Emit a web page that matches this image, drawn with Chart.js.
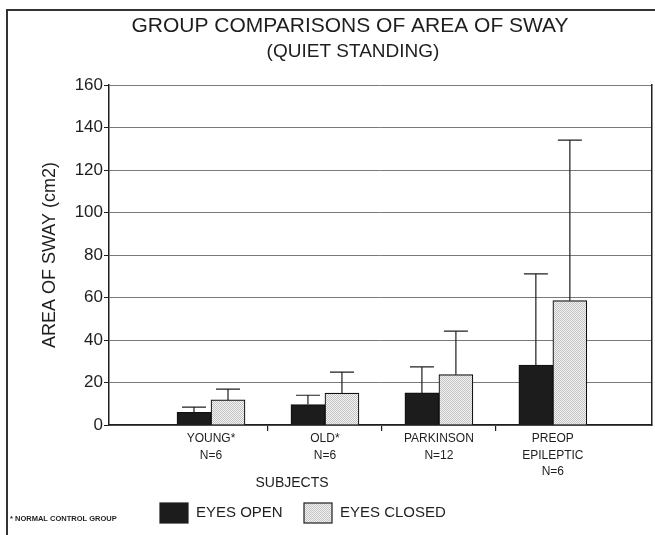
<!DOCTYPE html>
<html>
<head>
<meta charset="utf-8">
<script src="https://cdn.jsdelivr.net/npm/chart.js@4.4.1/dist/chart.umd.min.js"></script>
<style>
  html, body { margin: 0; padding: 0; background: #fff; }
  #wrap { width: 655px; height: 535px; position: relative; }
</style>
</head>
<body>
<div id="wrap"><canvas id="myChart"></canvas></div>
<script>
// groups (x positions 1..4) and their tick labels
const groups = [
  ['YOUNG*', 'N=6'],
  ['OLD*', 'N=6'],
  ['PARKINSON', 'N=12'],
  ['PREOP', 'EPILEPTIC', 'N=6']
];
const eyesOpen = [6, 9.6, 15.1, 28.2];
const eyesClosed = [11.8, 15, 23.7, 58.5];
// top of the (upper) error bar
const openErr = [8.4, 14, 27.4, 71.1];
const closedErr = [16.9, 24.9, 44.2, 134.1];
const yTicks = [0, 20, 40, 60, 80, 100, 120, 140, 160];

const FONT = "'Liberation Sans', Arial, Helvetica, sans-serif";
const INK = '#1e1e1e';

// stipple fill for the eyes closed bars
function stipple() {
  const c = document.createElement('canvas');
  c.width = 2; c.height = 2;
  const g = c.getContext('2d');
  g.fillStyle = '#f3f3f3';
  g.fillRect(0, 0, 2, 2);
  g.fillStyle = '#c2c2c2';
  g.fillRect(0, 0, 1, 1);
  g.fillRect(1, 1, 1, 1);
  return g.createPattern(c, 'repeat');
}
const dots = stipple();

const errBars = {
  id: 'errBars',
  afterDatasetsDraw(chart) {
    const c = chart.ctx;
    const errs = [openErr, closedErr];
    c.save();
    c.strokeStyle = INK;
    c.lineWidth = 1.2;
    errs.forEach((e, di) => {
      chart.getDatasetMeta(di).data.forEach((bar, i) => {
        const y1 = chart.scales.y.getPixelForValue(e[i]);
        c.beginPath();
        c.moveTo(bar.x, bar.y);
        c.lineTo(bar.x, y1);
        c.moveTo(bar.x - 12, y1);
        c.lineTo(bar.x + 12, y1);
        c.stroke();
      });
    });
    c.restore();
  }
};

const decor = {
  id: 'decor',
  beforeDraw(chart) {
    const c = chart.ctx;
    c.save();
    // outer frame
    c.strokeStyle = '#333';
    c.lineWidth = 2;
    c.beginPath();
    c.moveTo(7, 540);
    c.lineTo(7, 10);
    c.lineTo(660, 10);
    c.stroke();
    c.restore();
  },
  afterDraw(chart) {
    const c = chart.ctx;
    c.save();
    c.fillStyle = INK;
    c.textAlign = 'center';
    c.textBaseline = 'middle';
    c.font = '21px ' + FONT;
    c.fillText('GROUP COMPARISONS OF AREA OF SWAY', 350, 26);
    c.font = '19px ' + FONT;
    c.fillText('(QUIET STANDING)', 353, 52);
    c.font = '14px ' + FONT;
    c.fillText('SUBJECTS', 292, 483);

    // footnote
    c.textAlign = 'left';
    c.font = 'bold 7.5px ' + FONT;
    c.fillText('* NORMAL CONTROL GROUP', 10, 519);

    // legend
    const ds = chart.data.datasets;
    const items = [[160, 196], [304, 340]];
    c.font = '15px ' + FONT;
    items.forEach((it, k) => {
      c.fillStyle = ds[k].backgroundColor;
      c.fillRect(it[0], 503, 28, 20);
      c.strokeStyle = INK;
      c.lineWidth = 1.2;
      c.strokeRect(it[0], 503, 28, 20);
      c.fillStyle = INK;
      c.fillText(ds[k].label, it[1], 513);
    });
    c.restore();
  }
};

const ctx = document.getElementById('myChart').getContext('2d');

const config = {
  type: 'bar',
  data: {
    datasets: [{
      label: 'EYES OPEN',
      data: eyesOpen.map((v, i) => ({ x: i + 1, y: v })),
      backgroundColor: '#1c1c1c',
      borderColor: '#111',
      borderWidth: 1.2
    }, {
      label: 'EYES CLOSED',
      data: eyesClosed.map((v, i) => ({ x: i + 1, y: v })),
      backgroundColor: dots,
      borderColor: '#111',
      borderWidth: 1.2
    }]
  },
  options: {
    responsive: true,
    maintainAspectRatio: false,
    animation: false,
    layout: { padding: { left: 0, right: 3, top: 85, bottom: 0 } },
    barThickness: 34,
    scales: {
      x: {
        type: 'linear',
        offset: false,
        min: 0.105,
        max: 4.87,
        afterBuildTicks: (s) => {
          s.ticks = [1, 1.5, 2, 2.5, 3, 3.5, 4].map(v => ({ value: v }));
        },
        afterFit: (s) => { s.height = 110; },
        grid: {
          offset: false,
          drawOnChartArea: false,
          tickLength: 6,
          color: (c) => (c.tick && Number.isInteger(c.tick.value)) ? 'rgba(0,0,0,0)' : INK,
          lineWidth: 1.2
        },
        border: { display: true, color: INK, width: 1.5 },
        ticks: {
          autoSkip: false,
          maxRotation: 0,
          padding: 0,
          color: INK,
          font: { family: FONT, size: 12, lineHeight: 1.35 },
          callback: (v) => Number.isInteger(v) ? groups[v - 1] : ''
        }
      },
      y: {
        min: 0,
        max: 160,
        afterBuildTicks: (s) => { s.ticks = yTicks.map(v => ({ value: v })); },
        afterFit: (s) => { s.width = 109; },
        grid: { color: '#7a7a7a', lineWidth: 1, tickLength: 5, tickColor: INK },
        border: { display: true, color: INK, width: 1.5 },
        ticks: { color: INK, padding: 1, font: { family: FONT, size: 17 } },
        title: {
          display: true,
          text: 'AREA OF SWAY (cm2)',
          color: INK,
          font: { family: FONT, size: 18 },
          padding: { top: 39, bottom: 0 }
        }
      },
      y2: {
        position: 'right',
        min: 0,
        max: 160,
        afterFit: (s) => { s.width = 0; },
        grid: { drawOnChartArea: false, drawTicks: false },
        border: { display: true, color: INK, width: 1.5 },
        ticks: { display: false }
      }
    },
    plugins: {
      legend: { display: false },
      tooltip: { enabled: false }
    }
  },
  plugins: [errBars, decor]
};

const myChart = new Chart(ctx, config);
</script>
</body>
</html>
